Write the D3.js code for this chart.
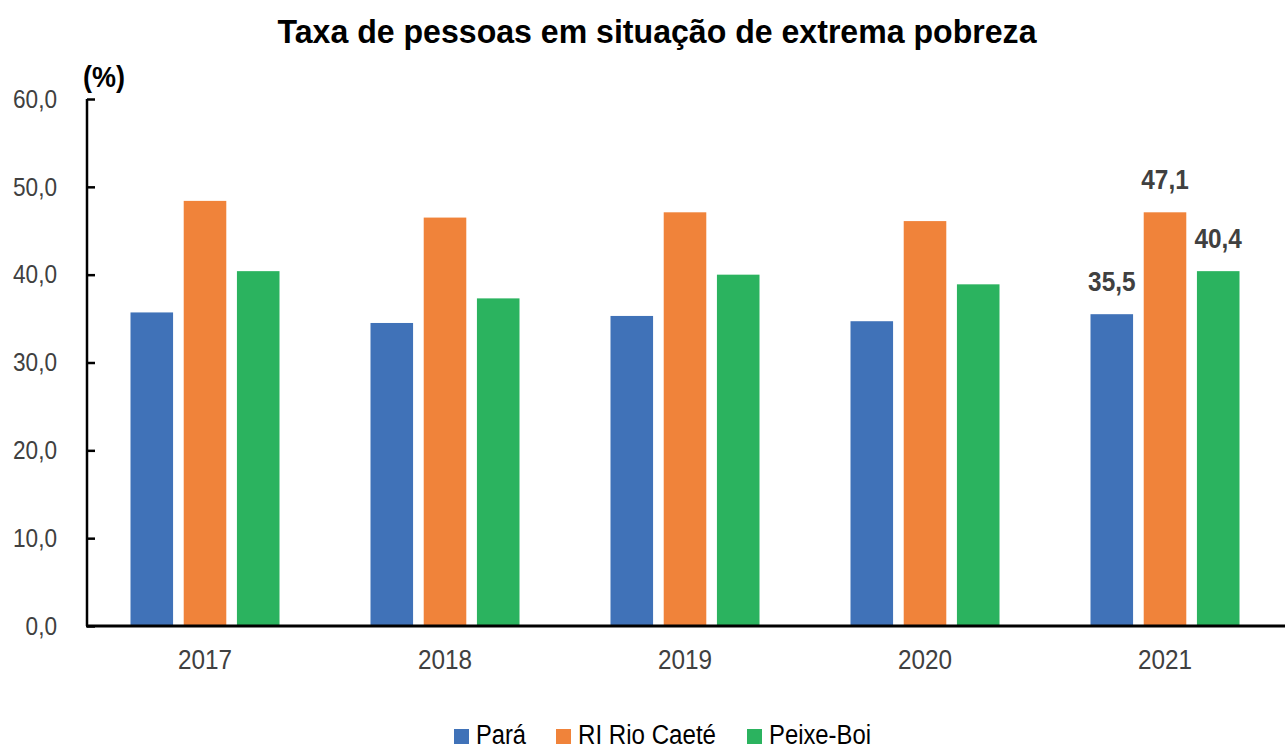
<!DOCTYPE html>
<html><head><meta charset="utf-8">
<script src="https://cdn.jsdelivr.net/npm/d3@7"></script>
<style>body{margin:0;background:#fff}svg{display:block}text{font-family:"Liberation Sans",Arial,sans-serif}</style>
</head><body><svg id="c" width="1285" height="751"></svg>
<script>
const years = ["2017","2018","2019","2020","2021"];
const seriesNames = ["Pará","RI Rio Caeté","Peixe-Boi"];
const para = [35.7,34.5,35.3,34.7,35.5];
const rioCaete = [48.4,46.5,47.1,46.1,47.1];
const peixeBoi = [40.4,37.3,40.0,38.9,40.4];
const yTicks = [0,10,20,30,40,50,60];
const colors = ["#4072B8","#F0833A","#2BB35F"];
const labelYear = "2021";

const svg = d3.select("#c");
const x0 = d3.scaleBand().domain(years).range([85,1285]);
const x1 = d3.scaleBand().domain(seriesNames).range([45.5,194.5]).paddingInner(0.2);
const y = d3.scaleLinear().domain([0,60]).range([626,99]);
const data = [para, rioCaete, peixeBoi];
const fmt = v => d3.format(".1f")(v).replace(".",",");

function condense(sel, k){
  sel.each(function(){
    const w = this.getComputedTextLength();
    d3.select(this).attr("textLength", w*k).attr("lengthAdjust","spacingAndGlyphs");
  });
}

// title
svg.append("text").attr("x",657).attr("y",43).attr("text-anchor","middle")
  .attr("font-size",33).attr("font-weight","bold").attr("fill","#000")
  .attr("textLength",759).attr("lengthAdjust","spacingAndGlyphs")
  .text("Taxa de pessoas em situação de extrema pobreza");
svg.append("text").attr("x",104).attr("y",87).attr("text-anchor","middle")
  .attr("font-size",29).attr("font-weight","bold").attr("fill","#000")
  .attr("textLength",42).attr("lengthAdjust","spacingAndGlyphs").text("(%)");

// bars
const g = svg.append("g");
years.forEach((yr,i)=>{
  seriesNames.forEach((s,j)=>{
    const v = data[j][i];
    g.append("rect").attr("x",x0(yr)+x1(s)).attr("width",x1.bandwidth())
      .attr("y",y(v)).attr("height",y(0)-y(v)).attr("fill",colors[j]);
    if(yr===labelYear){
      g.append("text").attr("class","dl").attr("x",x0(yr)+x1(s)+x1.bandwidth()/2).attr("y",y(v)-23)
        .attr("text-anchor","middle").attr("font-size",28).attr("font-weight","bold")
        .attr("fill","#404040").text(fmt(v));
    }
  });
});
condense(g.selectAll("text.dl"), 0.87);

// y axis
const yAxis = d3.axisLeft(y).tickValues(yTicks).tickSize(-8).tickPadding(30).tickFormat(fmt);
const ya = svg.append("g").attr("transform","translate(87,0)").call(yAxis);
ya.select(".domain").attr("stroke","#000").attr("stroke-width",2.5).attr("d","M0,"+y(60)+"V"+y(0));
ya.selectAll(".tick line").attr("stroke","#000").attr("stroke-width",2.5);
ya.selectAll(".tick text").attr("font-size",26).attr("fill","#404040")
  .attr("font-family","'Liberation Sans',Arial,sans-serif");
condense(ya.selectAll(".tick text"), 0.87);

// x axis
const xAxis = d3.axisBottom(x0).tickSize(0).tickPadding(24);
const xa = svg.append("g").attr("transform","translate(0,"+y(0)+")").call(xAxis);
xa.select(".domain").attr("stroke","#000").attr("stroke-width",3).attr("d","M86,0H1285");
xa.selectAll(".tick text").attr("font-size",27).attr("fill","#404040")
  .attr("font-family","'Liberation Sans',Arial,sans-serif");
condense(xa.selectAll(".tick text"), 0.9);

// legend
const legX = [454,556,747];
const legW = [50,138,102];
const lg = svg.append("g");
seriesNames.forEach((s,j)=>{
  lg.append("rect").attr("x",legX[j]).attr("y",729).attr("width",15).attr("height",15).attr("fill",colors[j]);
  lg.append("text").attr("x",legX[j]+22).attr("y",744).attr("font-size",27).attr("fill","#000")
    .attr("textLength",legW[j]).attr("lengthAdjust","spacingAndGlyphs").text(s);
});
</script></body></html>
